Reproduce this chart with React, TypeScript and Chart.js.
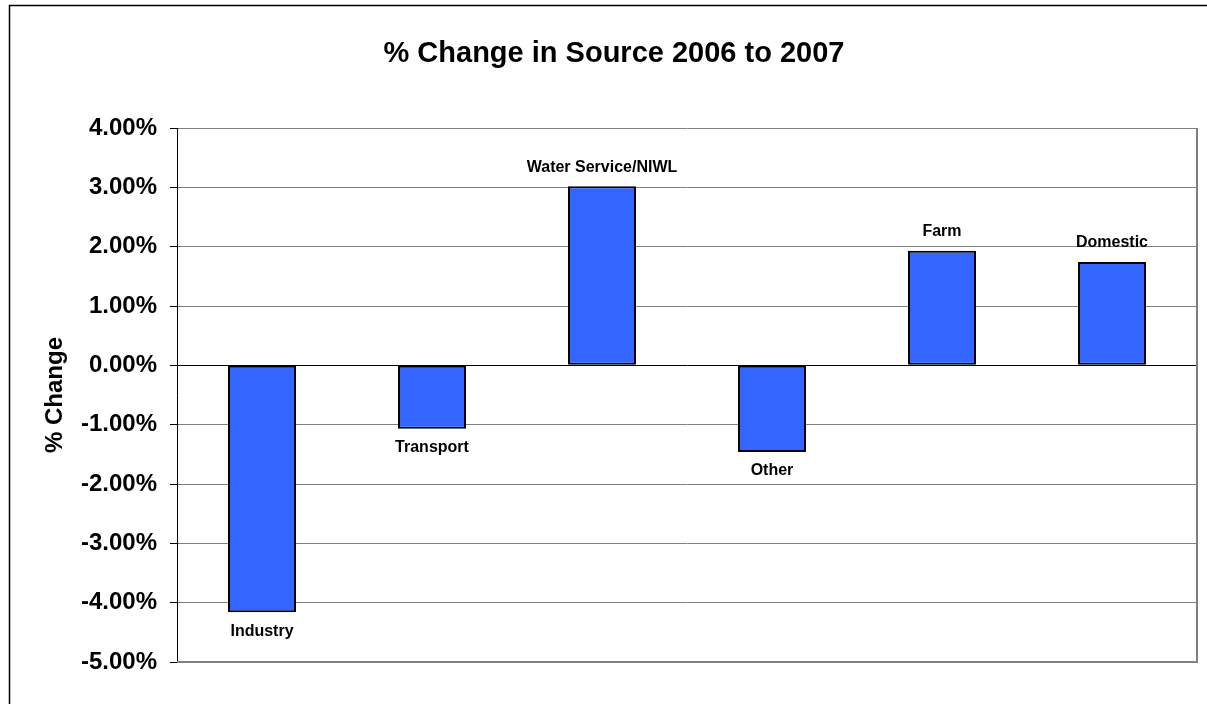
import React, { useEffect, useRef } from "react";
import { Chart, registerables } from "chart.js";

Chart.register(...registerables);

const categories: string[] = ["Industry", "Transport", "Water Service/NIWL", "Other", "Farm", "Domestic"];
const changeValues: number[] = [-4.16, -1.07, 3.02, -1.46, 1.93, 1.74];
const yMin = -5;
const yMax = 4;
const yStep = 1;
const chartTitle = "% Change in Source 2006 to 2007";
const yAxisTitle = "% Change";

const FONT = "'Liberation Sans', Arial, Helvetica, sans-serif";

const decorPlugin = {
  id: "decor",
  beforeDraw(chart: any) {
    const ctx = chart.ctx;
    ctx.save();
    ctx.fillStyle = "#ffffff";
    ctx.fillRect(0, 0, chart.width, chart.height);
    ctx.strokeStyle = "#000000";
    ctx.lineWidth = 1.5;
    ctx.strokeRect(9.5, 5.5, chart.width + 50, chart.height + 50);
    ctx.restore();
  },
  afterDatasetsDraw(chart: any) {
    const ctx = chart.ctx;
    const meta = chart.getDatasetMeta(0);
    ctx.save();
    ctx.font = `bold 16px ${FONT}`;
    ctx.fillStyle = "#000000";
    ctx.textAlign = "center";
    ctx.textBaseline = "middle";
    meta.data.forEach((bar: any, i: number) => {
      const v = changeValues[i];
      const y = v >= 0 ? bar.y - 19 : bar.y + 19;
      ctx.fillText(categories[i], bar.x, y);
    });
    const a = chart.chartArea;
    ctx.strokeStyle = "#808080";
    ctx.lineWidth = 2;
    ctx.beginPath();
    ctx.moveTo(a.left, a.bottom);
    ctx.lineTo(a.right, a.bottom);
    ctx.lineTo(a.right, a.top);
    ctx.stroke();
    ctx.restore();
  },
};

export default function App() {
  const canvasRef = useRef<HTMLCanvasElement | null>(null);

  useEffect(() => {
    document.body.style.margin = "0";
    const canvas = canvasRef.current;
    if (!canvas) return;
    const chart = new Chart(canvas, {
      type: "bar",
      data: {
        labels: categories,
        datasets: [
          {
            data: changeValues,
            backgroundColor: "#3366FF",
            borderColor: "#000000",
            borderWidth: 2,
            borderSkipped: false,
            barPercentage: 0.4,
            categoryPercentage: 1,
          },
        ],
      },
      options: {
        animation: false,
        responsive: false,
        maintainAspectRatio: false,
        layout: { padding: { left: 31, right: 10, top: 0, bottom: 42 } },
        plugins: {
          legend: { display: false },
          tooltip: { enabled: false },
          title: {
            display: true,
            text: chartTitle,
            color: "#000000",
            font: { family: FONT, size: 29, weight: "bold" },
            padding: { top: 37, bottom: 56.2 },
          },
        },
        scales: {
          x: {
            display: false,
            offset: true,
            grid: { display: false },
          },
          y: {
            min: yMin,
            max: yMax,
            afterFit(scale: any) {
              scale.width = 146;
            },
            ticks: {
              stepSize: yStep,
              color: "#000000",
              padding: 13,
              font: { family: FONT, size: 24, weight: "bold" },
              callback: (v: any) => Number(v).toFixed(2) + "%",
            },
            grid: {
              color: (c: any) => (c.tick && c.tick.value === 0 ? "#000000" : "#808080"),
              lineWidth: 1,
              tickLength: 7,
              tickColor: "#000000",
              drawTicks: true,
            },
            border: { display: true, color: "#000000", width: 1 },
            title: {
              display: true,
              text: yAxisTitle,
              color: "#000000",
              font: { family: FONT, size: 24, weight: "bold" },
              padding: { top: 10, bottom: 0 },
            },
          },
        },
      },
      plugins: [decorPlugin],
    } as any);
    return () => chart.destroy();
  }, []);

  return (
    <div style={{ width: 1207, height: 704 }}>
      <canvas ref={canvasRef} width={1207} height={704} style={{ display: "block" }} />
    </div>
  );
}
